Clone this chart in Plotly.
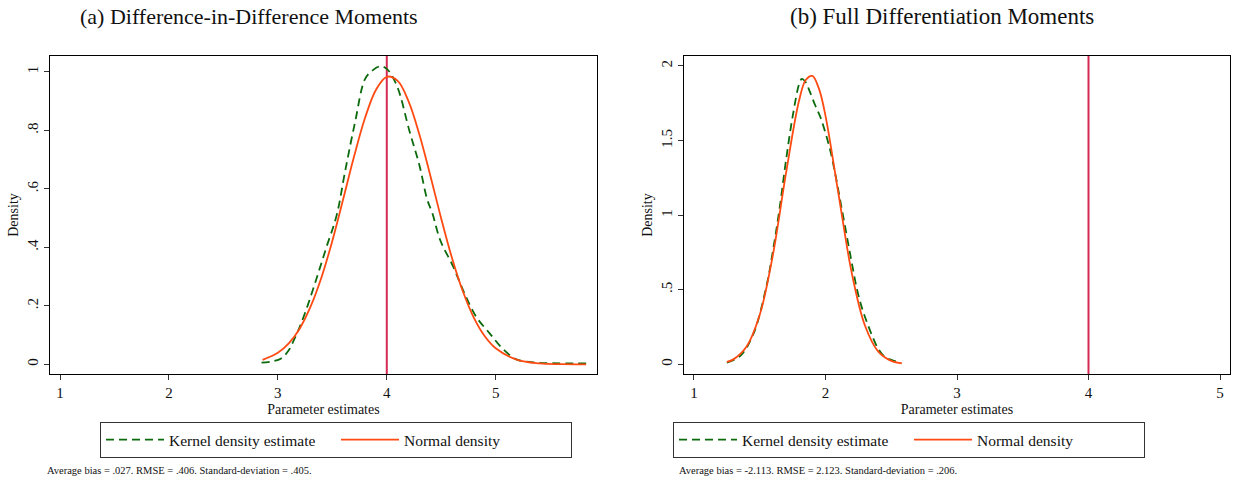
import plotly.graph_objects as go

# ---------------- data ----------------
true_value = 4

# Panel (a): Difference-in-Difference Moments
a_kde_x = [2.85, 2.95, 3.03, 3.10, 3.15, 3.20, 3.28, 3.37, 3.45, 3.54, 3.62, 3.71, 3.80, 3.87, 3.94,
           4.00, 4.09, 4.21, 4.30, 4.37, 4.42, 4.49, 4.61, 4.70, 4.82, 4.945, 5.06, 5.19, 5.34, 5.52, 5.83]
a_kde_y = [0.006, 0.010, 0.020, 0.048, 0.085, 0.127, 0.208, 0.311, 0.405, 0.510, 0.665, 0.830, 0.975, 1.005, 1.019,
           1.010, 0.955, 0.795, 0.680, 0.565, 0.515, 0.425, 0.334, 0.254, 0.163, 0.106, 0.055, 0.017, 0.007, 0.004, 0.003]
a_norm_x = [2.86, 3.0, 3.1, 3.2, 3.3, 3.4, 3.5, 3.6, 3.7, 3.8, 3.9, 4.0, 4.1, 4.2, 4.3, 4.4,
            4.5, 4.6, 4.7, 4.8, 4.9, 5.0, 5.2, 5.4, 5.6, 5.83]
a_norm_y = [0.0155, 0.0395, 0.0717, 0.122, 0.197, 0.297, 0.422, 0.565, 0.711, 0.842, 0.938, 0.983, 0.969, 0.899, 0.785, 0.645,
            0.498, 0.362, 0.248, 0.159, 0.096, 0.055, 0.015, 0.003, 0.0005, 0.0]

# Panel (b): Full Differentiation Moments
b_kde_x = [1.25, 1.35, 1.45, 1.55, 1.60, 1.65, 1.70, 1.75, 1.80, 1.82, 1.85, 1.88, 1.92, 1.96, 2.00,
           2.04, 2.08, 2.12, 2.16, 2.20, 2.24, 2.28, 2.32, 2.36, 2.40, 2.45, 2.50, 2.57]
b_kde_y = [0.012, 0.055, 0.200, 0.520, 0.760, 1.040, 1.370, 1.660, 1.880, 1.913, 1.890, 1.830, 1.740, 1.660, 1.550,
           1.420, 1.250, 1.060, 0.870, 0.680, 0.500, 0.370, 0.270, 0.180, 0.105, 0.050, 0.030, 0.012]
b_norm_x = [1.25, 1.30, 1.40, 1.50, 1.60, 1.70, 1.80, 1.85, 1.90, 1.95, 2.00, 2.10, 2.20, 2.30, 2.40, 2.50, 2.58]
b_norm_y = [0.016, 0.033, 0.119, 0.332, 0.734, 1.283, 1.772, 1.906, 1.933, 1.848, 1.666, 1.135, 0.611, 0.260, 0.087, 0.023, 0.007]

x_ticks = [1, 2, 3, 4, 5]
a_y_ticks = [0, 0.2, 0.4, 0.6, 0.8, 1]
a_y_labels = ["0", ".2", ".4", ".6", ".8", "1"]
b_y_ticks = [0, 0.5, 1, 1.5, 2]
b_y_labels = ["0", ".5", "1", "1.5", "2"]

titles = ["(a) Difference-in-Difference Moments", "(b) Full Differentiation Moments"]
notes = ["Average bias = .027. RMSE = .406. Standard-deviation = .405.",
         "Average bias = -2.113. RMSE = 2.123. Standard-deviation = .206."]
kde_name = "Kernel density estimate"
norm_name = "Normal density"

# ---------------- styling ----------------
W, H = 1238, 481
FONT = "Liberation Serif"
GREEN = "#0b6a0b"
ORANGE = "#ff4a12"
VRED = "#d62a55"

fig = go.Figure()

def add_panel(kx, ky, nx, ny, xa, ya, leg):
    fig.add_trace(go.Scatter(x=kx, y=ky, mode="lines", name=kde_name, line_shape="spline",
                             line=dict(color=GREEN, width=1.8, dash="8px,5px"),
                             xaxis=xa, yaxis=ya, legend=leg))
    fig.add_trace(go.Scatter(x=nx, y=ny, mode="lines", name=norm_name, line_shape="spline",
                             line=dict(color=ORANGE, width=1.8),
                             xaxis=xa, yaxis=ya, legend=leg))

add_panel(a_kde_x, a_kde_y, a_norm_x, a_norm_y, "x", "y", "legend")
add_panel(b_kde_x, b_kde_y, b_norm_x, b_norm_y, "x2", "y2", "legend2")

for xr in ["x", "x2"]:
    fig.add_shape(type="line", xref=xr, yref=("y domain" if xr == "x" else "y2 domain"),
                  x0=true_value, x1=true_value, y0=0, y1=1,
                  line=dict(color=VRED, width=2), layer="below")

def px_x(p):
    return p / W

def px_y(p):
    return 1 - p / H

axis_common = dict(showline=True, linecolor="black", linewidth=1, mirror=True,
                   ticks="outside", ticklen=5, tickcolor="#333", showgrid=False, zeroline=False,
                   tickfont=dict(family=FONT, size=15, color="#111"))

legend_common = dict(orientation="h", xanchor="center", yanchor="middle",
                     bordercolor="#333", borderwidth=1, bgcolor="white", itemwidth=58,
                     entrywidth=162, entrywidthmode="pixels",
                     font=dict(family=FONT, size=15.5, color="#111"))

fig.update_layout(
    width=W, height=H,
    margin=dict(l=0, r=0, t=0, b=0),
    paper_bgcolor="white", plot_bgcolor="white",
    font=dict(family=FONT, color="#111"),
    xaxis=dict(domain=[px_x(50), px_x(597)], range=[0.908, 5.93], tickvals=x_ticks,
               title=dict(text="Parameter estimates", font=dict(family=FONT, size=14), standoff=4),
               anchor="y", **axis_common),
    yaxis=dict(domain=[px_y(374), px_y(56)], range=[-0.033, 1.054], tickvals=a_y_ticks, ticktext=a_y_labels,
               tickangle=-90, title=dict(text="Density", font=dict(family=FONT, size=14), standoff=3),
               anchor="x", **axis_common),
    xaxis2=dict(domain=[px_x(684), px_x(1230)], range=[0.924, 5.076], tickvals=x_ticks,
                title=dict(text="Parameter estimates", font=dict(family=FONT, size=14), standoff=4),
                anchor="y2", **axis_common),
    yaxis2=dict(domain=[px_y(374), px_y(56)], range=[-0.065, 2.067], tickvals=b_y_ticks, ticktext=b_y_labels,
                tickangle=-90, title=dict(text="Density", font=dict(family=FONT, size=14), standoff=3),
                anchor="x2", **axis_common),
    legend=dict(x=px_x(336), y=px_y(440), **legend_common),
    legend2=dict(x=px_x(909), y=px_y(440), **legend_common),
)

for t, cx, fs in zip(titles, [249, 942], [22, 23]):
    fig.add_annotation(text=t, x=px_x(cx), y=px_y(17), xref="paper", yref="paper",
                       showarrow=False, xanchor="center", yanchor="middle",
                       font=dict(family=FONT, size=fs, color="#111"))

for n, lx in zip(notes, [45, 677]):
    fig.add_annotation(text=n, x=px_x(lx), y=px_y(470), xref="paper", yref="paper",
                       showarrow=False, xanchor="left", yanchor="middle",
                       font=dict(family=FONT, size=10.5, color="#111"))

fig.write_html("out.html", config={"displayModeBar": False},
               post_script="document.body.style.margin='0';")
